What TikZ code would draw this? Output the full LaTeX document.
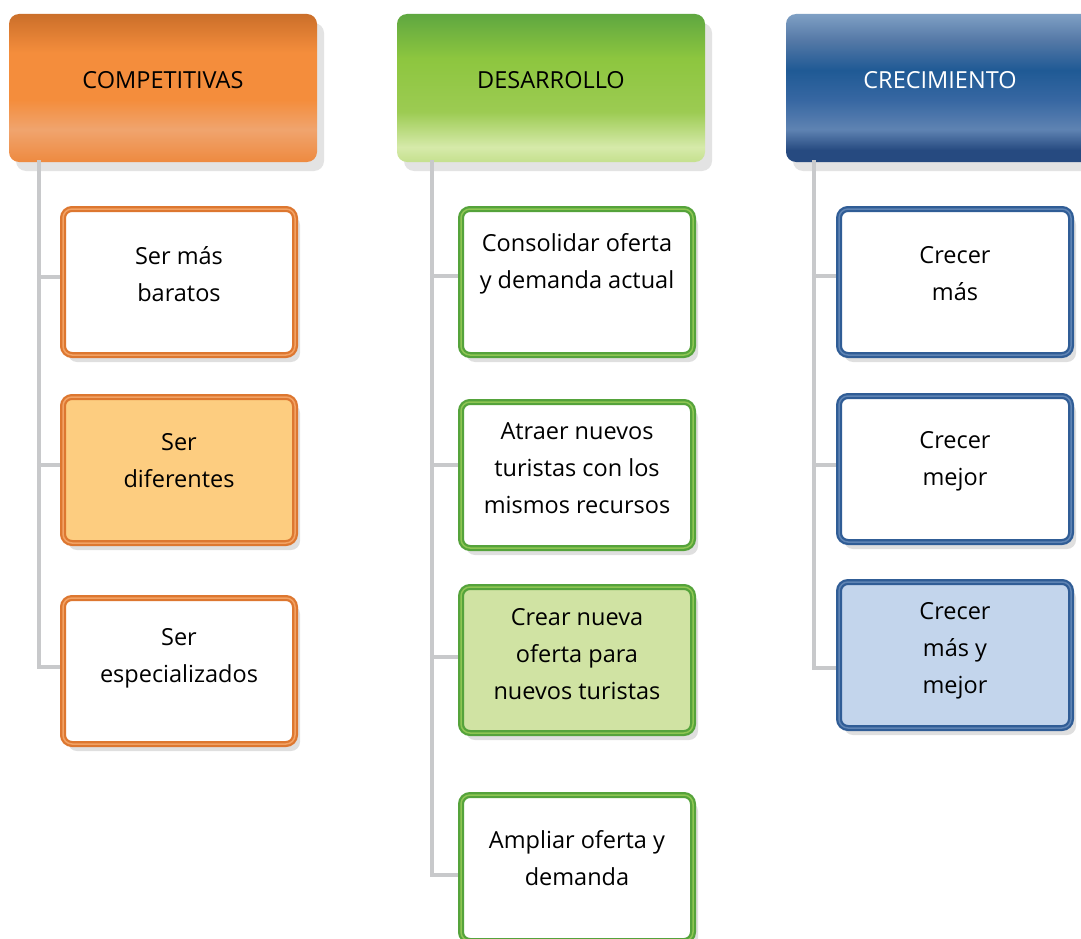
\documentclass[tikz,border=0pt]{standalone}
\usepackage{fontspec}
\setmainfont{Open Sans}
\usetikzlibrary{shadows}
\definecolor{oA}{HTML}{EE8A40}
\definecolor{oB}{HTML}{F0A46E}
\definecolor{oC}{HTML}{F48D3C}
\definecolor{oD}{HTML}{CB6F2A}
\definecolor{gA}{HTML}{C5E08E}
\definecolor{gB}{HTML}{D6EAAA}
\definecolor{gC}{HTML}{9CCB52}
\definecolor{gD}{HTML}{8DC63F}
\definecolor{gE}{HTML}{5FA740}
\definecolor{bA}{HTML}{264A80}
\definecolor{bB}{HTML}{5F83B2}
\definecolor{bC}{HTML}{3767A2}
\definecolor{bD}{HTML}{1F5A95}
\definecolor{bE}{HTML}{5478A6}
\definecolor{bF}{HTML}{7FA0C4}
\definecolor{oBorder}{HTML}{DD7730}
\definecolor{oHi}{HTML}{F2A264}
\definecolor{gBorder}{HTML}{55A33B}
\definecolor{gHi}{HTML}{8EC653}
\definecolor{bBorder}{HTML}{305D96}
\definecolor{bHi}{HTML}{5F84B4}
\definecolor{oFill}{HTML}{FDCD80}
\definecolor{gFill}{HTML}{D0E3A3}
\definecolor{bFill}{HTML}{C3D5EC}
\definecolor{connGray}{HTML}{C8C9CB}
\pgfdeclareverticalshading{hOrange}{100bp}{color(0bp)=(oA); color(25bp)=(oA); color(36bp)=(oB); color(46bp)=(oC); color(62bp)=(oC); color(75bp)=(oD); color(100bp)=(oD)}
\pgfdeclareverticalshading{hGreen}{100bp}{color(0bp)=(gA); color(25bp)=(gA); color(30bp)=(gB); color(42bp)=(gC); color(60bp)=(gD); color(75bp)=(gE); color(100bp)=(gE)}
\pgfdeclareverticalshading{hBlue}{100bp}{color(0bp)=(bA); color(25bp)=(bA); color(29bp)=(bA); color(36bp)=(bB); color(46bp)=(bC); color(56bp)=(bD); color(66bp)=(bE); color(75bp)=(bF); color(100bp)=(bF)}
\tikzset{
  lbl/.style={font=\fontsize{23.5}{37}\selectfont, align=center, inner sep=0pt},
  head/.style={rectangle, rounded corners=10pt, minimum width=308pt, minimum height=148pt,
    inner sep=0pt, drop shadow={shadow xshift=7pt, shadow yshift=-9pt, opacity=0.22}},
  child/.style={rectangle, rounded corners=9pt, minimum width=232pt, minimum height=146pt,
    inner sep=0pt, line width=6pt,
    drop shadow={shadow xshift=5pt, shadow yshift=-7pt, opacity=0.25}},
  ochild/.style={child, draw=oBorder, fill=white,
    postaction={draw=oHi, line width=1.5pt, rounded corners=8pt}},
  gchild/.style={child, draw=gBorder, fill=white,
    postaction={draw=gHi, line width=1.5pt, rounded corners=8pt}},
  bchild/.style={child, draw=bBorder, fill=white,
    postaction={draw=bHi, line width=1.5pt, rounded corners=8pt}},
  conn/.style={draw=connGray, line width=4.5pt}
}
\begin{document}
\begin{tikzpicture}[x=1pt, y=-1pt]
\useasboundingbox (0,0) rectangle (1081,939);
\fill[white] (0,0) rectangle (1081,939);

% roots of the connector trunks (under each header)
\coordinate (r1) at (39,160);
\coordinate (r2) at (432,160);
\coordinate (r3) at (814,160);

% headers
\node[head, shading=hOrange, label={[lbl, yshift=8pt]center:COMPETITIVAS}] (h1) at (163,88) {};
\node[head, shading=hGreen, label={[lbl, yshift=8pt]center:DESARROLLO}] (h2) at (551,88) {};
\node[head, shading=hBlue, label={[lbl, yshift=8pt, text=white]center:CRECIMIENTO}] (h3) at (940,88) {};

% column 1 children
\node[ochild, label={[lbl, yshift=8pt]center:Ser más\\baratos}] (c11) at (179,282) {};
\node[ochild, fill=oFill, label={[lbl, yshift=9pt]center:Ser\\diferentes}] (c12) at (179,470) {};
\node[ochild, label={[lbl, yshift=13pt]center:Ser\\especializados}] (c13) at (179,671) {};

% column 2 children
\node[gchild, label={[lbl, yshift=18pt]center:Consolidar oferta\\y demanda actual}] (c21) at (577,282) {};
\node[gchild, label={[lbl, yshift=7pt]center:Atraer nuevos\\turistas con los\\mismos recursos}] (c22) at (577,475) {};
\node[gchild, fill=gFill, label={[lbl, yshift=6pt]center:Crear nueva\\oferta para\\nuevos turistas}] (c23) at (577,660) {};
\node[gchild, label={[lbl, yshift=10pt]center:Ampliar oferta y\\demanda}] (c24) at (577,868) {};

% column 3 children
\node[bchild, label={[lbl, yshift=8pt]center:Crecer\\más}] (c31) at (955,282) {};
\node[bchild, label={[lbl, yshift=8pt]center:Crecer\\mejor}] (c32) at (955,469) {};
\node[bchild, fill=bFill, label={[lbl, yshift=4pt]center:Crecer\\más y\\mejor}] (c33) at (955,655) {};

% stub end points on the children
\coordinate (s11) at ([yshift=5pt]c11.west);
\coordinate (s12) at ([yshift=5pt]c12.west);
\coordinate (s13) at ([yshift=4pt]c13.west);
\coordinate (s21) at ([yshift=6pt]c21.west);
\coordinate (s22) at ([yshift=10pt]c22.west);
\coordinate (s23) at ([yshift=3pt]c23.west);
\coordinate (s24) at ([yshift=-7pt]c24.west);
\coordinate (s31) at ([yshift=6pt]c31.west);
\coordinate (s32) at ([yshift=4pt]c32.west);
\coordinate (s33) at ([yshift=-13pt]c33.west);

% connectors
\draw[conn] (r1) |- (s13);
\draw[conn] ([xshift=-2.25pt]r1 |- s11) -- (s11);
\draw[conn] ([xshift=-2.25pt]r1 |- s12) -- (s12);
\draw[conn] (r2) |- (s24);
\draw[conn] ([xshift=-2.25pt]r2 |- s21) -- (s21);
\draw[conn] ([xshift=-2.25pt]r2 |- s22) -- (s22);
\draw[conn] ([xshift=-2.25pt]r2 |- s23) -- (s23);
\draw[conn] (r3) |- (s33);
\draw[conn] ([xshift=-2.25pt]r3 |- s31) -- (s31);
\draw[conn] ([xshift=-2.25pt]r3 |- s32) -- (s32);
\end{tikzpicture}
\end{document}
